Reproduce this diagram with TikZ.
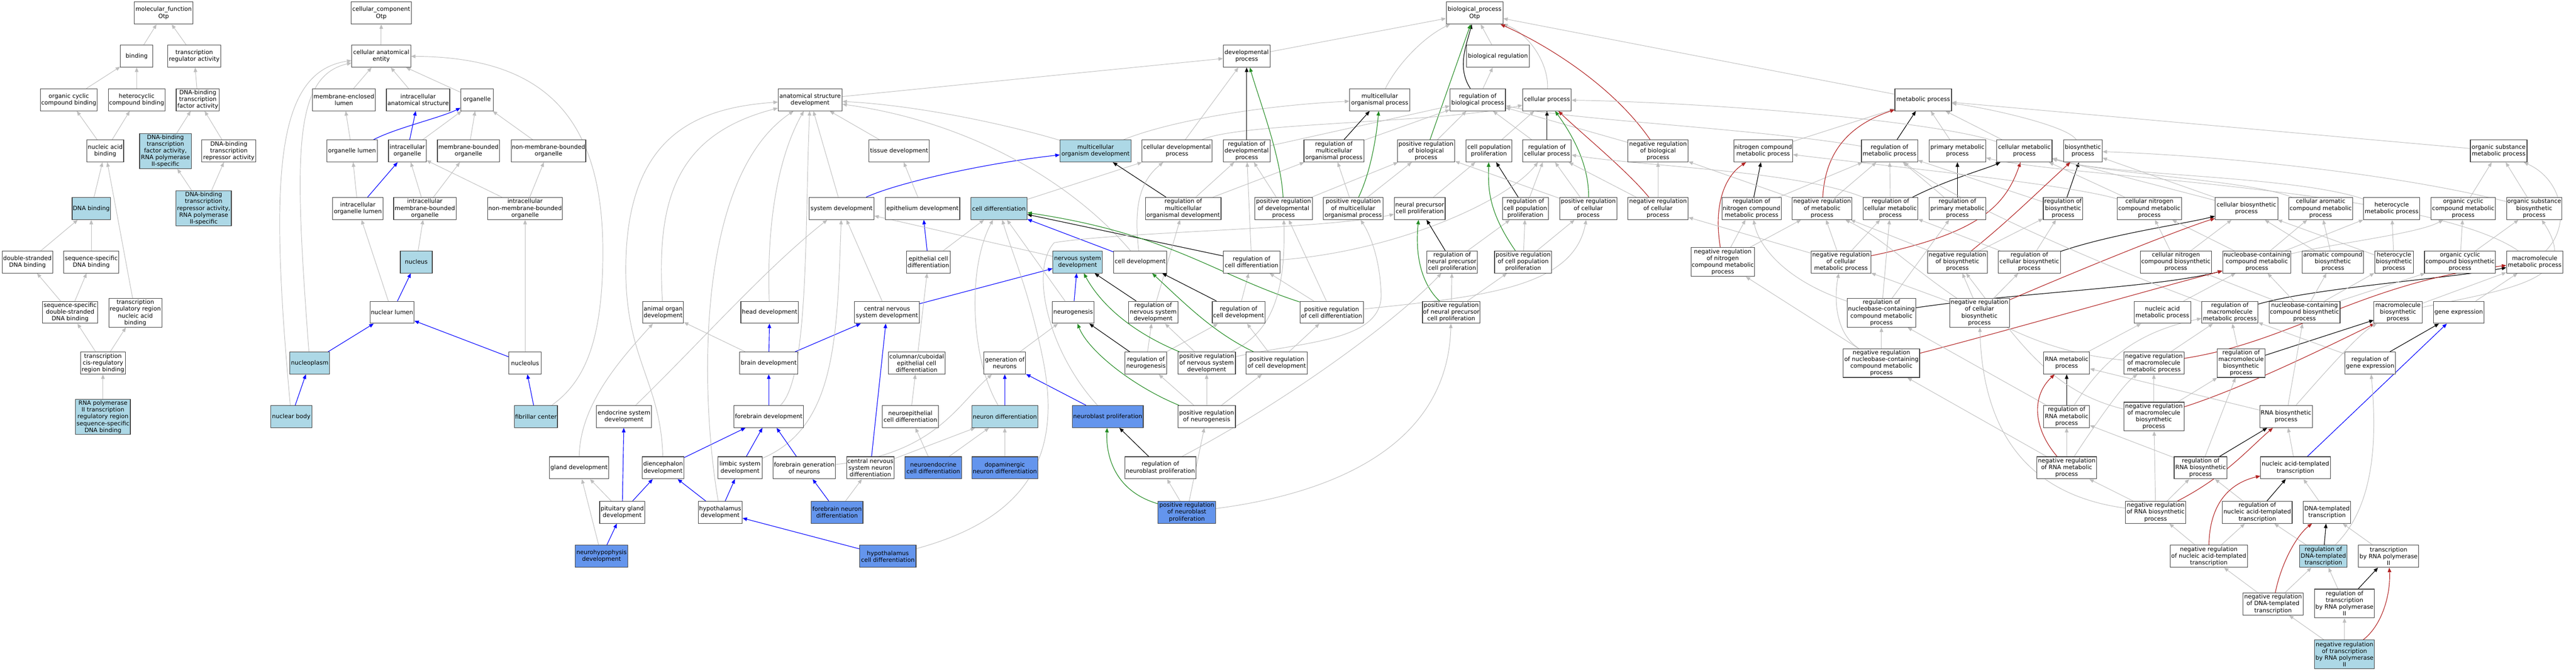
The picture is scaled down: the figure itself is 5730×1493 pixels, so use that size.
\documentclass[tikz,border=0pt]{standalone}
\usepackage{fontspec}
\setmainfont{DejaVu Sans}
\usetikzlibrary{arrows.meta,backgrounds}
\definecolor{lb}{HTML}{ADD8E6}
\definecolor{cb}{HTML}{6495ED}
\definecolor{eg}{HTML}{BEBEBE}
\definecolor{gr}{HTML}{228B22}
\definecolor{rd}{HTML}{B22222}
\definecolor{bu}{HTML}{0000FF}
\definecolor{bx}{HTML}{404040}
\tikzset{
  gobox/.style={draw=bx, line width=1.3pt, rectangle, align=center, inner sep=0pt,
    font=\fontsize{13.1}{15}\selectfont},
  goedge/.style={-{Triangle[length=10pt,width=8pt]}},
  isa/.style={goedge, draw=eg, line width=1.1pt},
  pof/.style={goedge, draw=bu, line width=1.3pt},
  rg/.style={goedge, draw=black, line width=1.3pt},
  prg/.style={goedge, draw=gr, line width=1.3pt},
  nrg/.style={goedge, draw=rd, line width=1.3pt},
}
\newcommand\gonode[7]{\node[gobox, minimum width=#4pt, minimum height=#5pt, fill=#6] (#1) at (#2,#3) {#7};}
\newcommand\gedge[3][isa]{\draw[#1] (#2) -- (#3);}
\begin{document}
\begin{tikzpicture}[x=1pt,y=-1pt]
\useasboundingbox (0,0) rectangle (5730,1493);
% ---------- molecular function ----------
\gonode{mf}{364}{29}{130}{49}{white}{molecular\_function\\Otp}
\gonode{binding}{304}{125}{72}{49}{white}{binding}
\gonode{tra}{432}{125}{118}{49}{white}{transcription\\regulator activity}
\gonode{occb}{153}{222}{126}{49}{white}{organic cyclic\\compound binding}
\gonode{hcb}{304}{222}{126}{49}{white}{heterocyclic\\compound binding}
\gonode{dbtf}{440}{222}{96}{49}{white}{DNA-binding\\transcription\\factor activity}
\gonode{nab}{234}{336}{82}{49}{white}{nucleic acid\\binding}
\gonode{dbtfp}{368}{336}{115}{78}{lb}{DNA-binding\\transcription\\factor activity,\\RNA polymerase\\II-specific}
\gonode{dbtr}{509}{336}{120}{49}{white}{DNA-binding\\transcription\\repressor activity}
\gonode{dnab}{203}{464}{85}{49}{lb}{DNA binding}
\gonode{dbtrp}{453}{464}{123}{78}{lb}{DNA-binding\\transcription\\repressor activity,\\RNA polymerase\\II-specific}
\gonode{dsdb}{61}{583}{112}{49}{white}{double-stranded\\DNA binding}
\gonode{ssdb}{203}{583}{123}{49}{white}{sequence-specific\\DNA binding}
\gonode{ssdsdb}{156}{695}{122}{49}{white}{sequence-specific\\double-stranded\\DNA binding}
\gonode{trrnab}{301}{696}{118}{64}{white}{transcription\\regulatory region\\nucleic acid\\binding}
\gonode{tcrrb}{229}{808}{100}{49}{white}{transcription\\cis-regulatory\\region binding}
\gonode{rnapb}{229}{928}{122}{78}{lb}{RNA polymerase\\II transcription\\regulatory region\\sequence-specific\\DNA binding}
% ---------- cellular component ----------
\gonode{cc}{848}{29}{134}{49}{white}{cellular\_component\\Otp}
\gonode{cae}{848}{125}{131}{49}{white}{cellular anatomical\\entity}
\gonode{mel}{765}{222}{139}{49}{white}{membrane-enclosed\\lumen}
\gonode{ias}{930}{222}{141}{49}{white}{intracellular\\anatomical structure}
\gonode{org}{1061}{222}{72}{49}{white}{organelle}
\gonode{orgl}{783}{336}{112}{49}{white}{organelle lumen}
\gonode{io}{906}{336}{84}{49}{white}{intracellular\\organelle}
\gonode{mbo}{1042}{336}{138}{49}{white}{membrane-bounded\\organelle}
\gonode{nmbo}{1220}{336}{166}{49}{white}{non-membrane-bounded\\organelle}
\gonode{iol}{796}{464}{112}{49}{white}{intracellular\\organelle lumen}
\gonode{imbo}{945}{464}{139}{49}{white}{intracellular\\membrane-bounded\\organelle}
\gonode{inmbo}{1168}{464}{166}{49}{white}{intracellular\\non-membrane-bounded\\organelle}
\gonode{nucleus}{926}{583}{71}{49}{lb}{nucleus}
\gonode{nl}{872}{695}{98}{49}{white}{nuclear lumen}
\gonode{npl}{689}{808}{88}{49}{lb}{nucleoplasm}
\gonode{ncl}{1168}{808}{72}{49}{white}{nucleolus}
\gonode{nb}{648}{927}{91}{49}{lb}{nuclear body}
\gonode{fc}{1192}{927}{96}{49}{lb}{fibrillar center}
% ---------- biological process ----------
\gonode{bp}{3280}{29}{126}{49}{white}{biological\_process\\Otp}
\gonode{dp}{2773}{125}{104}{49}{white}{developmental\\process}
\gonode{br}{3332}{125}{139}{49}{white}{biological regulation}
\gonode{asd}{1802}{222}{142}{49}{white}{anatomical structure\\development}
\gonode{mop}{3069}{222}{134}{49}{white}{multicellular\\organismal process}
\gonode{rbp}{3287}{222}{123}{49}{white}{regulation of\\biological process}
\gonode{cp}{3441}{222}{108}{49}{white}{cellular process}
\gonode{mp}{4278}{222}{126}{49}{white}{metabolic process}
% R3
\gonode{td}{2000}{336}{134}{49}{white}{tissue development}
\gonode{mod}{2437}{336}{158}{49}{lb}{multicellular\\organism development}
\gonode{cdp}{2618}{336}{156}{49}{white}{cellular developmental\\process}
\gonode{rdp}{2773}{336}{104}{49}{white}{regulation of\\developmental\\process}
\gonode{rmop}{2967}{336}{133}{49}{white}{regulation of\\multicellular\\organismal process}
\gonode{prbp}{3172}{336}{128}{49}{white}{positive regulation\\of biological\\process}
\gonode{cpp}{3312}{336}{102}{49}{white}{cell population\\proliferation}
\gonode{rcp}{3441}{336}{108}{49}{white}{regulation of\\cellular process}
\gonode{nrbp}{3688}{336}{134}{49}{white}{negative regulation\\of biological\\process}
\gonode{ncmp}{3922}{336}{131}{49}{white}{nitrogen compound\\metabolic process}
\gonode{rmp}{4203}{336}{125}{49}{white}{regulation of\\metabolic process}
\gonode{pmp}{4354}{336}{126}{49}{white}{primary metabolic\\process}
\gonode{cmp}{4503}{336}{123}{49}{white}{cellular metabolic\\process}
\gonode{bsp}{4633}{336}{86}{49}{white}{biosynthetic\\process}
\gonode{osmp}{5558}{336}{126}{49}{white}{organic substance\\metabolic process}
% R4
\gonode{sd}{1872}{464}{144}{49}{white}{system development}
\gonode{ed}{2052}{464}{166}{49}{white}{epithelium development}
\gonode{cd}{2222}{464}{125}{49}{lb}{cell differentiation}
\gonode{rmod}{2632}{464}{168}{49}{white}{regulation of\\multicellular\\organismal development}
\gonode{prdp}{2855}{464}{128}{49}{white}{positive regulation\\of developmental\\process}
\gonode{pmop}{3010}{464}{133}{49}{white}{positive regulation\\of multicellular\\organismal process}
\gonode{npcp}{3158}{464}{113}{49}{white}{neural precursor\\cell proliferation}
\gonode{rcpp}{3393}{464}{102}{49}{white}{regulation of\\cell population\\proliferation}
\gonode{prcp}{3533}{464}{128}{49}{white}{positive regulation\\of cellular\\process}
\gonode{nrcp}{3688}{464}{134}{49}{white}{negative regulation\\of cellular\\process}
\gonode{rncmp}{3896}{464}{132}{49}{white}{regulation of\\nitrogen compound\\metabolic process}
\gonode{nrmp}{4053}{464}{133}{49}{white}{negative regulation\\of metabolic\\process}
\gonode{rcmp}{4205}{464}{122}{49}{white}{regulation of\\cellular metabolic\\process}
\gonode{rpmp}{4354}{464}{126}{49}{white}{regulation of\\primary metabolic\\process}
\gonode{rbsp}{4589}{464}{88}{49}{white}{regulation of\\biosynthetic\\process}
\gonode{cncmp}{4781}{464}{143}{49}{white}{cellular nitrogen\\compound metabolic\\process}
\gonode{cbp}{4997}{464}{139}{49}{white}{cellular biosynthetic\\process}
\gonode{cacmp}{5162}{464}{142}{49}{white}{cellular aromatic\\compound metabolic\\process}
\gonode{hmp}{5320}{464}{125}{49}{white}{heterocycle\\metabolic process}
\gonode{occmp}{5479}{464}{143}{49}{white}{organic cyclic\\compound metabolic\\process}
\gonode{osbp}{5637}{464}{123}{49}{white}{organic substance\\biosynthetic\\process}
% R5
\gonode{ecd}{2065}{583}{98}{49}{white}{epithelial cell\\differentiation}
\gonode{nsd}{2397}{583}{110}{49}{lb}{nervous system\\development}
\gonode{celld}{2536}{583}{118}{49}{white}{cell development}
\gonode{rcd}{2784}{583}{126}{49}{white}{regulation of\\cell differentiation}
\gonode{rnpcp}{3230}{583}{113}{49}{white}{regulation of\\neural precursor\\cell proliferation}
\gonode{prcpp}{3388}{583}{127}{49}{white}{positive regulation\\of cell population\\proliferation}
\gonode{nrncmp}{3832}{583}{141}{64}{white}{negative regulation\\of nitrogen\\compound metabolic\\process}
\gonode{nrcmp}{4095}{583}{133}{49}{white}{negative regulation\\of cellular\\metabolic process}
\gonode{nrbsp}{4354}{583}{133}{49}{white}{negative regulation\\of biosynthetic\\process}
\gonode{rcbp}{4514}{583}{138}{49}{white}{regulation of\\cellular biosynthetic\\process}
\gonode{cncbp}{4840}{583}{158}{49}{white}{cellular nitrogen\\compound biosynthetic\\process}
\gonode{nccmp}{5020}{583}{152}{49}{white}{nucleobase-containing\\compound metabolic\\process}
\gonode{acbp}{5189}{583}{136}{49}{white}{aromatic compound\\biosynthetic\\process}
\gonode{hbp}{5325}{583}{86}{49}{white}{heterocycle\\biosynthetic\\process}
\gonode{occbp}{5472}{583}{158}{49}{white}{organic cyclic\\compound biosynthetic\\process}
\gonode{mmp}{5638}{583}{125}{49}{white}{macromolecule\\metabolic process}
% R6
\gonode{aod}{1475}{695}{91}{49}{white}{animal organ\\development}
\gonode{hd}{1712}{695}{128}{49}{white}{head development}
\gonode{cnsd}{1973}{695}{144}{49}{white}{central nervous\\system development}
\gonode{neurog}{2387}{695}{93}{49}{white}{neurogenesis}
\gonode{rnsd}{2565}{695}{110}{49}{white}{regulation of\\nervous system\\development}
\gonode{rceld}{2755}{695}{117}{49}{white}{regulation of\\cell development}
\gonode{prcd}{2962}{695}{141}{49}{white}{positive regulation\\of cell differentiation}
\gonode{prnpcp}{3228}{695}{128}{49}{white}{positive regulation\\of neural precursor\\cell proliferation}
\gonode{rnccmp}{4185}{696}{152}{64}{white}{regulation of\\nucleobase-containing\\compound metabolic\\process}
\gonode{nrcbp}{4403}{696}{133}{64}{white}{negative regulation\\of cellular\\biosynthetic\\process}
\gonode{namp}{4810}{695}{126}{49}{white}{nucleic acid\\metabolic process}
\gonode{rmmp}{4960}{695}{125}{49}{white}{regulation of\\macromolecule\\metabolic process}
\gonode{nccbp}{5126}{695}{158}{49}{white}{nucleobase-containing\\compound biosynthetic\\process}
\gonode{mbp}{5334}{695}{107}{49}{white}{macromolecule\\biosynthetic\\process}
\gonode{ge}{5469}{695}{112}{49}{white}{gene expression}
% R7
\gonode{bd}{1710}{808}{129}{49}{white}{brain development}
\gonode{ccecd}{2039}{808}{126}{49}{white}{columnar/cuboidal\\epithelial cell\\differentiation}
\gonode{gon}{2235}{808}{93}{49}{white}{generation of\\neurons}
\gonode{rneurog}{2549}{808}{93}{49}{white}{regulation of\\neurogenesis}
\gonode{prnsd}{2684}{808}{128}{49}{white}{positive regulation\\of nervous system\\development}
\gonode{prceld}{2840}{808}{136}{49}{white}{positive regulation\\of cell development}
\gonode{nrnccmp}{4185}{808}{170}{64}{white}{negative regulation\\of nucleobase-containing\\compound metabolic\\process}
\gonode{rnamp}{4597}{808}{102}{49}{white}{RNA metabolic\\process}
\gonode{nrmmp}{4791}{808}{134}{49}{white}{negative regulation\\of macromolecule\\metabolic process}
\gonode{rmbp}{4985}{808}{106}{64}{white}{regulation of\\macromolecule\\biosynthetic\\process}
\gonode{rge}{5272}{808}{112}{49}{white}{regulation of\\gene expression}
% R8
\gonode{esd}{1388}{927}{123}{49}{white}{endocrine system\\development}
\gonode{fd}{1710}{927}{155}{49}{white}{forebrain development}
\gonode{necd}{2025}{927}{125}{49}{white}{neuroepithelial\\cell differentiation}
\gonode{nd}{2235}{927}{147}{49}{lb}{neuron differentiation}
\gonode{nbp}{2464}{927}{158}{49}{cb}{neuroblast proliferation}
\gonode{prneurog}{2684}{927}{128}{49}{white}{positive regulation\\of neurogenesis}
\gonode{rrnamp}{4597}{927}{102}{49}{white}{regulation of\\RNA metabolic\\process}
\gonode{nrmbp}{4791}{927}{134}{64}{white}{negative regulation\\of macromolecule\\biosynthetic\\process}
\gonode{rnabp}{5085}{927}{117}{49}{white}{RNA biosynthetic\\process}
% R9
\gonode{gd}{1288}{1041}{131}{49}{white}{gland development}
\gonode{dd}{1475}{1041}{93}{49}{white}{diencephalon\\development}
\gonode{lsd}{1646}{1041}{99}{49}{white}{limbic system\\development}
\gonode{fgon}{1789}{1041}{138}{49}{white}{forebrain generation\\of neurons}
\gonode{cnsnd}{1936}{1041}{106}{49}{white}{central nervous\\system neuron\\differentiation}
\gonode{neucd}{2076}{1041}{126}{49}{cb}{neuroendocrine\\cell differentiation}
\gonode{dnd}{2235}{1041}{147}{49}{cb}{dopaminergic\\neuron differentiation}
\gonode{rnbp}{2581}{1041}{158}{49}{white}{regulation of\\neuroblast proliferation}
\gonode{nrrnamp}{4597}{1041}{133}{49}{white}{negative regulation\\of RNA metabolic\\process}
\gonode{rrnabp}{4895}{1041}{118}{49}{white}{regulation of\\RNA biosynthetic\\process}
\gonode{natt}{5106}{1041}{155}{49}{white}{nucleic acid-templated\\transcription}
% R10
\gonode{pgd}{1384}{1140}{100}{49}{white}{pituitary gland\\development}
\gonode{hyd}{1602}{1140}{98}{49}{white}{hypothalamus\\development}
\gonode{fnd}{1862}{1140}{115}{49}{cb}{forebrain neuron\\differentiation}
\gonode{prnbp}{2640}{1140}{128}{49}{cb}{positive regulation\\of neuroblast\\proliferation}
\gonode{nrrnabp}{4795}{1140}{134}{49}{white}{negative regulation\\of RNA biosynthetic\\process}
\gonode{rnatt}{5021}{1140}{155}{49}{white}{regulation of\\nucleic acid-templated\\transcription}
\gonode{dtt}{5176}{1140}{106}{49}{white}{DNA-templated\\transcription}
% R11
\gonode{nhd}{1338}{1238}{117}{49}{cb}{neurohypophysis\\development}
\gonode{hycd}{1975}{1238}{125}{49}{cb}{hypothalamus\\cell differentiation}
\gonode{nrnatt}{4913}{1238}{172}{49}{white}{negative regulation\\of nucleic acid-templated\\transcription}
\gonode{rdtt}{5168}{1238}{106}{49}{lb}{regulation of\\DNA-templated\\transcription}
\gonode{trnap}{5313}{1238}{134}{49}{white}{transcription\\by RNA polymerase\\II}
% R12-13
\gonode{nrdtt}{5056}{1344}{134}{49}{white}{negative regulation\\of DNA-templated\\transcription}
\gonode{rtrnap}{5215}{1343}{133}{64}{white}{regulation of\\transcription\\by RNA polymerase\\II}
\gonode{nrtrnap}{5215}{1456}{133}{64}{lb}{negative regulation\\of transcription\\by RNA polymerase\\II}

\begin{scope}[on background layer]
\fill[white] (0,0) rectangle (5730,1493);
% ---- MF edges ----
\gedge{binding}{mf} \gedge{tra}{mf} \gedge{occb}{binding} \gedge{hcb}{binding}
\gedge{dbtf}{tra} \gedge{nab}{occb} \gedge{nab}{hcb} \gedge{dbtfp}{dbtf}
\gedge{dbtr}{dbtf} \gedge{dnab}{nab} \gedge{dbtrp}{dbtfp} \gedge{dbtrp}{dbtr}
\gedge{dsdb}{dnab} \gedge{ssdb}{dnab} \gedge{trrnab}{nab} \gedge{ssdsdb}{dsdb}
\gedge{ssdsdb}{ssdb} \gedge{tcrrb}{ssdsdb} \gedge{tcrrb}{trrnab} \gedge{rnapb}{tcrrb}
% ---- CC edges ----
\gedge{cae}{cc} \gedge{mel}{cae} \gedge{ias}{cae} \gedge{org}{cae}
\draw[isa] (npl) .. controls (655,350) and (650,170) .. (cae);
\draw[isa] (nb) .. controls (600,400) and (610,160) .. (cae);
\draw[isa] (fc) .. controls (1300,850) and (1341,760) .. (1341,560) .. controls (1341,250) and (1200,127) .. (cae);
\gedge{orgl}{mel}
\draw[pof] (orgl) .. controls (880,285) and (980,262) .. (org);
\gedge[pof]{io}{ias} \gedge{io}{org} \gedge{mbo}{org} \gedge{nmbo}{org}
\gedge{iol}{orgl} \gedge[pof]{iol}{io} \gedge{imbo}{io} \gedge{imbo}{mbo}
\gedge{inmbo}{io} \gedge{inmbo}{nmbo} \gedge{nucleus}{imbo} \gedge{nl}{iol}
\gedge[pof]{nl}{nucleus} \gedge[pof]{npl}{nl} \gedge[pof]{ncl}{nl} \gedge{ncl}{inmbo}
\gedge[pof]{nb}{npl} \gedge[pof]{fc}{ncl}
% ---- BP top ----
\gedge{dp}{bp} \gedge{br}{bp}
\draw[rg] (rbp) .. controls (3240,150) and (3262,100) .. (bp);
\gedge{rbp}{br}
\draw[isa] (cp) .. controls (3445,140) and (3400,75) .. (bp);
\gedge{mp}{bp}
\draw[isa] (mop) .. controls (3110,140) and (3170,80) .. (bp);
\gedge[prg]{prbp}{bp}
\draw[nrg] (nrbp) .. controls (3580,180) and (3420,90) .. (bp);
\gedge{asd}{dp}
% ---- R3 ----
\gedge{td}{asd}
\draw[isa] (mod) .. controls (2250,280) and (2050,235) .. (asd);
\draw[isa] (mod) .. controls (2600,270) and (2800,235) .. (mop);
\gedge{cdp}{dp}
\draw[isa] (cdp) .. controls (2760,272) and (3200,275) .. (cp);
\gedge[rg]{rdp}{dp} \gedge{rdp}{rbp} \gedge[rg]{rmop}{mop} \gedge{rmop}{rbp}
\gedge{prbp}{rbp} \gedge{cpp}{cp} \gedge[rg]{rcp}{cp} \gedge{rcp}{rbp}
\gedge{nrbp}{rbp} \gedge{ncmp}{mp} \gedge[rg]{rmp}{mp}
\draw[isa] (rmp) .. controls (3900,285) and (3500,268) .. (rbp);
\gedge{pmp}{mp} \gedge{cmp}{mp}
\draw[isa] (cmp) .. controls (4300,268) and (3800,228) .. (cp);
\draw[isa] (bsp) .. controls (4600,280) and (4420,240) .. (mp);
\gedge{osmp}{mp}
% ---- R4 ----
\gedge{sd}{asd}
\draw[pof] (sd) .. controls (2000,405) and (2200,362) .. (mod);
\gedge{ed}{td} \gedge{cd}{cdp} \gedge[rg]{rmod}{mod} \gedge{rmod}{rmop}
\gedge{rmod}{rdp} \gedge{prdp}{rdp}
\draw[prg] (prdp) .. controls (2850,350) and (2800,220) .. (dp);
\gedge{prdp}{prbp} \gedge{pmop}{rmop}
\draw[prg] (pmop) .. controls (3050,380) and (3062,300) .. (mop);
\gedge{pmop}{prbp} \gedge{npcp}{cpp} \gedge[rg]{rcpp}{cpp} \gedge{rcpp}{rcp}
\gedge{prcp}{rcp}
\draw[prg] (prcp) .. controls (3535,360) and (3490,290) .. (cp);
\gedge{prcp}{prbp} \gedge{nrcp}{rcp}
\draw[nrg] (nrcp) .. controls (3620,380) and (3510,290) .. (cp);
\gedge{nrcp}{nrbp} \gedge[rg]{rncmp}{ncmp} \gedge{rncmp}{rmp} \gedge{nrmp}{rmp}
\draw[nrg] (nrmp) .. controls (4060,340) and (4110,280) .. (mp);
\gedge{nrmp}{nrbp} \gedge{rcmp}{rmp}
\draw[rg] (rcmp) .. controls (4330,400) and (4420,375) .. (cmp);
\draw[isa] (rcmp) .. controls (4000,380) and (3650,370) .. (rcp);
\gedge[rg]{rpmp}{pmp} \gedge{rpmp}{rmp} \gedge[rg]{rbsp}{bsp} \gedge{rbsp}{rmp}
\draw[isa] (cncmp) .. controls (4600,410) and (4200,370) .. (ncmp);
\gedge{cncmp}{cmp} \gedge{cbp}{bsp} \gedge{cbp}{cmp}
\draw[isa] (cacmp) .. controls (5000,400) and (4700,390) .. (cmp);
\draw[isa] (hmp) .. controls (5100,390) and (4700,392) .. (cmp);
\gedge{occmp}{osmp} \gedge{osbp}{osmp}
\draw[isa] (osbp) .. controls (5300,380) and (4900,345) .. (bsp);
% ---- R5 ----
\gedge[pof]{ecd}{ed} \gedge{ecd}{cd} \gedge{nsd}{sd} \gedge[pof]{celld}{cd}
\draw[isa] (celld) .. controls (2380,400) and (2150,270) .. (asd);
\draw[isa] (celld) .. controls (2520,450) and (2540,400) .. (cdp);
\gedge[rg]{rcd}{cd}
\draw[isa] (rcd) .. controls (3100,560) and (3350,450) .. (rcp);
\gedge{rcd}{rdp} \gedge[rg]{rnpcp}{npcp} \gedge{rnpcp}{rcpp} \gedge{prcpp}{rcpp}
\draw[prg] (prcpp) .. controls (3310,470) and (3310,420) .. (cpp);
\gedge{prcpp}{prcp} \gedge{nrncmp}{rncmp} \gedge{nrncmp}{nrmp}
\draw[nrg] (nrncmp) .. controls (3810,450) and (3840,390) .. (ncmp);
\gedge{nrcmp}{nrmp} \gedge{nrcmp}{rcmp}
\draw[nrg] (nrcmp) .. controls (4400,520) and (4460,460) .. (cmp);
\gedge{nrcmp}{nrcp} \gedge{nrbsp}{rbsp}
\draw[nrg] (nrbsp) .. controls (4470,490) and (4540,420) .. (bsp);
\gedge{nrbsp}{nrmp} \gedge{rcbp}{rbsp}
\draw[rg] (rcbp) .. controls (4700,520) and (4850,500) .. (cbp);
\gedge{rcbp}{rcmp} \gedge{cncbp}{cncmp} \gedge{cncbp}{cbp} \gedge{nccmp}{cncmp}
\gedge{nccmp}{cacmp} \gedge{nccmp}{hmp}
\draw[isa] (nccmp) .. controls (5200,540) and (5380,520) .. (occmp);
\gedge{acbp}{cacmp} \gedge{acbp}{cbp} \gedge{hbp}{hmp} \gedge{hbp}{cbp}
\gedge{occbp}{occmp} \gedge{occbp}{osbp}
\draw[isa] (mmp) .. controls (5720,500) and (5700,400) .. (osmp);
\draw[isa] (mmp) .. controls (5400,420) and (4600,395) .. (pmp);
% ---- R6 ----
\gedge[pof]{cnsd}{nsd} \gedge{cnsd}{sd}
\draw[isa] (aod) .. controls (1460,450) and (1500,300) .. (asd);
\draw[isa] (hd) .. controls (1705,500) and (1730,350) .. (asd);
\gedge[pof]{neurog}{nsd} \gedge{neurog}{cd} \gedge[rg]{rnsd}{nsd} \gedge{rnsd}{rmod}
\gedge[rg]{rceld}{celld} \gedge{rceld}{rcd} \gedge{prcd}{rcd}
\draw[prg] (prcd) .. controls (2700,610) and (2600,520) .. (cd);
\draw[isa] (prcd) .. controls (3300,660) and (3500,640) .. (prcp);
\gedge{prcd}{prdp} \gedge{prnpcp}{rnpcp}
\draw[prg] (prnpcp) .. controls (3150,620) and (3150,540) .. (npcp);
\gedge{prnpcp}{prcpp} \gedge{rnccmp}{rcmp}
\draw[isa] (rnccmp) .. controls (3960,620) and (3910,540) .. (rncmp);
\draw[rg] (rnccmp) .. controls (4500,650) and (4800,640) .. (nccmp);
\gedge{rnccmp}{rpmp} \gedge{nrcbp}{nrbsp} \gedge{nrcbp}{rcbp} \gedge{nrcbp}{nrcmp}
\draw[nrg] (nrcbp) .. controls (4650,590) and (4850,510) .. (cbp);
\gedge{namp}{nccmp}
\draw[rg] (rmmp) .. controls (5150,640) and (5450,620) .. (mmp);
\draw[isa] (rmmp) .. controls (4700,600) and (4350,450) .. (rmp);
\gedge{nccbp}{nccmp} \gedge{nccbp}{acbp} \gedge{nccbp}{hbp} \gedge{nccbp}{occbp}
\gedge{nccbp}{cncbp} \gedge{mbp}{mmp}
\draw[isa] (mbp) .. controls (5600,640) and (5740,620) .. (osbp);
\gedge{ge}{mmp}
% ---- R7 ----
\gedge[pof]{bd}{hd} \gedge{bd}{aod} \gedge[pof]{bd}{cnsd}
\gedge{ccecd}{ecd} \gedge{gon}{neurog} \gedge[rg]{rneurog}{neurog}
\gedge{rneurog}{rnsd} \gedge{rneurog}{rceld} \gedge{prnsd}{rnsd}
\draw[prg] (prnsd) .. controls (2520,740) and (2450,680) .. (nsd);
\draw[isa] (prnsd) .. controls (2830,740) and (2860,650) .. (prdp);
\draw[isa] (prnsd) .. controls (2900,760) and (3080,760) .. (3072,650) .. controls (3068,560) and (3040,510) .. (pmop);
\gedge{prceld}{rceld}
\draw[prg] (prceld) .. controls (2700,740) and (2640,680) .. (celld);
\gedge{prceld}{prcd} \gedge{nrnccmp}{rnccmp}
\draw[isa] (nrnccmp) .. controls (4080,740) and (4080,660) .. (nrcmp);
\draw[nrg] (nrnccmp) .. controls (4450,740) and (4800,640) .. (nccmp);
\gedge{nrnccmp}{nrncmp} \gedge{rnamp}{namp} \gedge{nrmmp}{rmmp}
\draw[nrg] (nrmmp) .. controls (5100,760) and (5250,630) .. (mmp);
\draw[isa] (nrmmp) .. controls (4400,770) and (4250,560) .. (nrmp);
\gedge{rmbp}{rmmp} \gedge[rg]{rmbp}{mbp} \gedge{rge}{rmmp} \gedge[rg]{rge}{ge}
% ---- R8 ----
\gedge[pof]{fd}{bd}
\draw[isa] (fd) .. controls (1800,840) and (1790,500) .. (asd);
\draw[isa] (esd) .. controls (1560,760) and (1700,600) .. (sd);
\gedge{necd}{ccecd} \gedge[pof]{nd}{gon}
\draw[isa] (nd) .. controls (2160,800) and (2150,600) .. (cd);
\gedge[pof]{nbp}{gon}
\draw[isa] (nbp) .. controls (2330,780) and (2290,600) .. (2345,540) .. controls (2500,515) and (2950,510) .. (npcp);
\gedge{prneurog}{rneurog} \gedge{prneurog}{prnsd} \gedge{prneurog}{prceld}
\draw[prg] (prneurog) .. controls (2520,860) and (2420,780) .. (neurog);
\gedge[rg]{rrnamp}{rnamp} \gedge{rrnamp}{rnccmp}
\draw[isa] (rrnamp) .. controls (4680,800) and (4750,740) .. (rmmp);
\gedge{nrmbp}{nrmmp} \gedge{nrmbp}{rmbp}
\draw[nrg] (nrmbp) .. controls (5000,860) and (5200,760) .. (mbp);
\draw[isa] (nrmbp) .. controls (4560,870) and (4490,760) .. (nrbsp);
\gedge{rnabp}{rnamp} \gedge{rnabp}{nccbp}
\draw[isa] (rnabp) .. controls (5170,830) and (5250,740) .. (mbp);
% ---- R9 ----
\draw[isa] (gd) .. controls (1290,900) and (1380,800) .. (aod);
\gedge[pof]{dd}{fd}
\draw[isa] (dd) .. controls (1470,850) and (1392,800) .. (1392,600) .. controls (1392,300) and (1550,240) .. (asd);
\gedge[pof]{lsd}{fd}
\draw[isa] (lsd) .. controls (1860,950) and (1862,750) .. (sd);
\gedge[pof]{fgon}{fd}
\draw[isa] (fgon) .. controls (2080,1010) and (2130,900) .. (gon);
\gedge[pof]{cnsnd}{cnsd} \gedge{cnsnd}{nd} \gedge{neucd}{necd} \gedge{neucd}{nd}
\gedge{dnd}{nd} \gedge[rg]{rnbp}{nbp}
\draw[isa] (rnbp) .. controls (2850,900) and (3100,720) .. (rnpcp);
\gedge{nrrnamp}{rrnamp}
\draw[nrg] (nrrnamp) .. controls (4520,950) and (4520,880) .. (rnamp);
\gedge{nrrnamp}{nrnccmp}
\draw[isa] (nrrnamp) .. controls (4690,900) and (4730,850) .. (nrmmp);
\gedge[rg]{rrnabp}{rnabp} \gedge{rrnabp}{rrnamp} \gedge{rrnabp}{rmbp}
\gedge{natt}{rnabp} \gedge[pof]{natt}{ge}
% ---- R10 ----
\gedge[pof]{pgd}{dd} \gedge{pgd}{gd} \gedge[pof]{pgd}{esd}
\gedge[pof]{hyd}{dd} \gedge[pof]{hyd}{lsd}
\draw[isa] (hyd) .. controls (1560,900) and (1540,400) .. (asd);
\gedge[pof]{fnd}{fgon} \gedge{fnd}{cnsnd} \gedge{prnbp}{rnbp}
\draw[prg] (prnbp) .. controls (2470,1090) and (2460,1000) .. (nbp);
\gedge{prnbp}{prneurog}
\draw[isa] (prnbp) .. controls (2950,1100) and (3220,1000) .. (prnpcp);
\gedge{nrrnabp}{nrmbp} \gedge{nrrnabp}{nrrnamp} \gedge{nrrnabp}{rrnabp}
\draw[nrg] (nrrnabp) .. controls (4950,1060) and (5000,1000) .. (rnabp);
\draw[isa] (nrrnabp) .. controls (4500,1100) and (4410,950) .. (nrcbp);
\gedge{rnatt}{rrnabp} \gedge[rg]{rnatt}{natt} \gedge{dtt}{natt}
% ---- R11 ----
\gedge[pof]{nhd}{pgd} \gedge{nhd}{gd} \gedge[pof]{hycd}{hyd}
\draw[isa] (hycd) .. controls (2300,1150) and (2360,1000) .. (2320,800) .. controls (2290,650) and (2250,560) .. (cd);
\gedge{nrnatt}{nrrnabp} \gedge{nrnatt}{rnatt}
\draw[nrg] (nrnatt) .. controls (4915,1120) and (4960,1075) .. (natt);
\gedge{rdtt}{rnatt} \gedge[rg]{rdtt}{dtt}
\draw[isa] (rdtt) .. controls (5290,1120) and (5285,950) .. (rge);
\gedge{trnap}{dtt}
% ---- R12/R13 ----
\gedge{nrdtt}{nrnatt} \gedge{nrdtt}{rdtt}
\draw[nrg] (nrdtt) .. controls (5075,1250) and (5110,1190) .. (dtt);
\gedge{rtrnap}{rdtt} \gedge[rg]{rtrnap}{trnap}
\gedge{nrtrnap}{nrdtt} \gedge{nrtrnap}{rtrnap}
\draw[nrg] (nrtrnap) .. controls (5300,1390) and (5318,1320) .. (trnap);
\end{scope}
\end{tikzpicture}
\end{document}
